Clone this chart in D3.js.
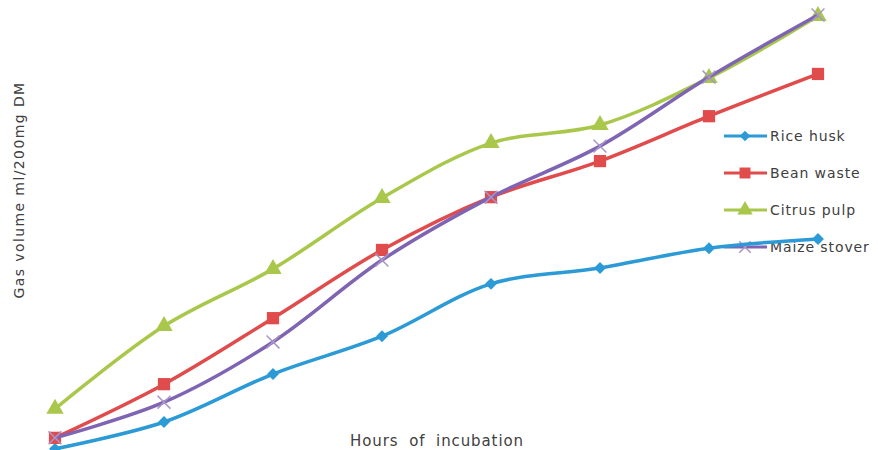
<!DOCTYPE html>
<html><head><meta charset="utf-8">
<script src="https://cdn.jsdelivr.net/npm/d3@7"></script>
<style>body{margin:0;background:#fff}svg{display:block}text{font-family:"DejaVu Sans",Verdana,sans-serif;fill:#404040}</style>
</head><body>
<svg id="c" width="878" height="450"></svg>
<script>
const hours = ["0","3","6","9","12","24","48","72"];
const seriesNames = ["Rice husk","Bean waste","Citrus pulp","Maize stover"];
const riceHusk   = [1.4, 7.5, 18.4, 27.0, 38.9, 42.5, 47.0, 49.1];
const beanWaste  = [3.9, 16.1, 31.1, 46.6, 58.6, 66.8, 77.0, 86.6];
const citrusPulp = [10.5, 29.3, 42.3, 58.4, 70.9, 75.0, 85.7, 99.8];
const maizeStover= [3.9, 12.0, 25.7, 44.3, 58.6, 70.2, 85.9, 100.0];
const colors = ["#2b9ad6","#e04b4b","#a9c84b","#7e64b2"];
const symbols = [d3.symbolDiamond2, d3.symbolSquare, d3.symbolTriangle, d3.symbolX];
const sizes = [90, 150, 130, 110];

const svg = d3.select("#c");
const x = d3.scalePoint().domain(hours).range([55, 818]);
const y = d3.scaleLinear().domain([0, 100]).range([455, 15]);
const all = [riceHusk, beanWaste, citrusPulp, maizeStover];

svg.append("text").attr("transform","translate(24,190) rotate(-90)")
  .attr("text-anchor","middle").attr("font-size",14).attr("letter-spacing",1.4).text("Gas volume ml/200mg DM");
svg.append("text").attr("x",437).attr("y",446).attr("text-anchor","middle")
  .attr("font-size",15).attr("letter-spacing",0.9).attr("word-spacing",5).text("Hours of incubation");

// legend
const lg = svg.append("g");
seriesNames.forEach((n,i)=>{
  const ly = 136 + i*37;
  lg.append("line").attr("x1",724).attr("x2",767).attr("y1",ly).attr("y2",ly)
    .attr("stroke",colors[i]).attr("stroke-width",3);
  const s = lg.append("path").attr("d",d3.symbol(symbols[i],sizes[i]*0.8)()).attr("transform",`translate(745,${ly})`);
  if(i===3) s.attr("fill","none").attr("stroke","#a995c9").attr("stroke-width",1.5);
  else s.attr("fill",colors[i]);
  lg.append("text").attr("x",770).attr("y",ly+5).attr("font-size",14).attr("letter-spacing",0.9).text(n);
});

const line = d3.line().x((d,i)=>x(hours[i])).y(d=>y(d)).curve(d3.curveCatmullRom.alpha(0.5));
all.forEach((vals,i)=>{
  const g = svg.append("g");
  g.append("path").attr("d",line(vals)).attr("fill","none").attr("stroke",colors[i]).attr("stroke-width",3.5);
  g.selectAll("path.m").data(vals).enter().append("path").attr("class","m")
    .attr("d",d3.symbol(symbols[i],sizes[i])())
    .attr("transform",(d,j)=>`translate(${x(hours[j])},${y(d)})`)
    .each(function(){
      const s=d3.select(this);
      if(i===3) s.attr("fill","none").attr("stroke","#a995c9").attr("stroke-width",1.5);
      else s.attr("fill",colors[i]);
    });
});
</script>
</body></html>
